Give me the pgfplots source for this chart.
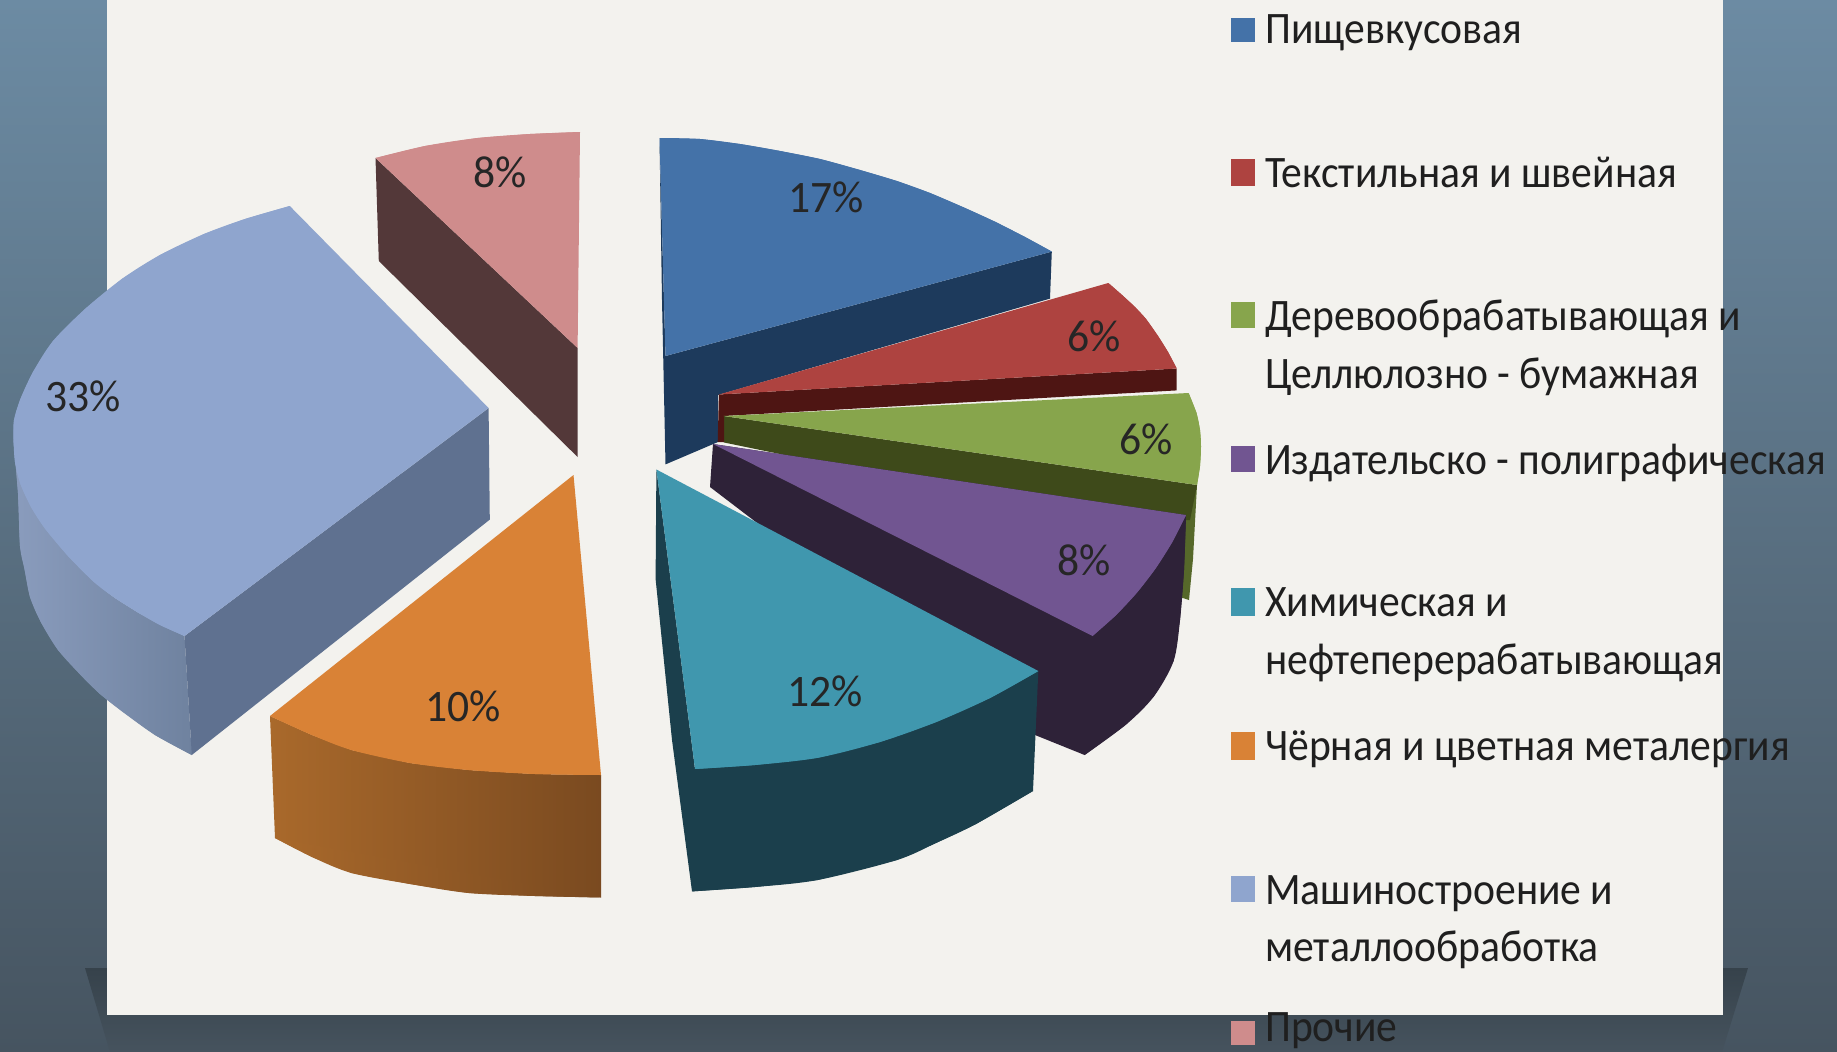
\documentclass[border=0pt]{standalone}
\usepackage{graphicx}
\usepackage{fontspec}
\setmainfont{Carlito}
\usepackage{pgfplots}
\pgfplotsset{compat=1.18}
\definecolor{panel}{HTML}{F3F2EE}
\definecolor{bluetop}{HTML}{4472A8}
\definecolor{blueside}{HTML}{1D3A5C}
\definecolor{redtop}{HTML}{AE4340}
\definecolor{redside}{HTML}{4E1513}
\definecolor{greentop}{HTML}{87A54C}
\definecolor{greenside}{HTML}{3E4A1A}
\definecolor{greenlite}{HTML}{56682A}
\definecolor{purpletop}{HTML}{715591}
\definecolor{purpleside}{HTML}{2E2238}
\definecolor{tealtop}{HTML}{4097AE}
\definecolor{tealside}{HTML}{1B3F4C}
\definecolor{orangetop}{HTML}{D98236}
\definecolor{orangeL}{HTML}{A9692B}
\definecolor{orangeR}{HTML}{7A4A20}
\definecolor{machtop}{HTML}{8FA5CE}
\definecolor{machL}{HTML}{8A9CBD}
\definecolor{machR}{HTML}{6F829F}
\definecolor{machflat}{HTML}{5F7190}
\definecolor{pinktop}{HTML}{CF8C8C}
\definecolor{pinkside}{HTML}{533839}
\newcommand{\lbl}[3]{\node[anchor=west,inner sep=0pt,text=black!88,font=\fontsize{45}{45}\selectfont] at (axis cs:#1,#2+5) {\scalebox{0.925}[1]{\strut #3}};}
\newcommand{\pct}[3]{\node[inner sep=0pt,text=black!85,font=\fontsize{45}{45}\selectfont] at (axis cs:#1,#2) {\scalebox{0.97}[1]{#3\%}};}
\begin{document}
\begin{tikzpicture}
\useasboundingbox (0,0) rectangle (1837pt,1052pt);
\begin{axis}[
  at={(0,0)}, anchor=south west,
  scale only axis, width=1837pt, height=1052pt,
  xmin=0, xmax=1837, ymin=0, ymax=1052, y dir=reverse,
  hide axis, clip=true, no markers, every axis plot/.append style={draw=none, line width=0pt}]
% background
\addplot[top color={rgb,255:red,108;green,139;blue,163}, middle color={rgb,255:red,88;green,116;blue,137}, bottom color={rgb,255:red,70;green,84;blue,96}] coordinates {(0,0)(1837,0)(1837,1052)(0,1052)};
% ribbon
\addplot[top color={rgb,255:red,54;green,66;blue,75}, bottom color={rgb,255:red,70;green,83;blue,94}] coordinates {(85,968)(1748,968)(1722,1052)(110,1052)};
% panel
\addplot[fill=panel] coordinates {(107,0)(1723,0)(1723,1015)(107,1015)};
% Pishchevkusovaya 17
\addplot[fill=blueside] coordinates {(659.5,138)(665.5,356)(1051.8,251.6)(1050,298.6)(718,395)(718,442)(665.5,464.4)(662,300)};
\addplot[fill=bluetop] coordinates {(659.5,138)(700,139)(740,144)(778,150.6)(820,159)(860,170)(896.8,181)(930,193)(965,208)(995.6,222)(1025,237)(1051.8,251.6)(665.5,356)};
\addplot[fill=bluetop, smooth] coordinates {(659.5,138)(700,139)(740,144)(778,150.6)(820,159)(860,170)(896.8,181)(930,193)(965,208)(995.6,222)(1025,237)(1051.8,251.6)};
% Green 6 side
\addplot[fill=greenlite] coordinates {(1180,500)(1197,485)(1193,559)(1189,600)(1180,597)};
\addplot[fill=greenside] coordinates {(723.6,416)(1197,485)(1190,520)(1100,520)(723.6,442.4)};
% Red 6
\addplot[fill=redside] coordinates {(718.9,394.5)(1176.7,368.5)(1176.7,390.4)(724,416)(724,442)(717.7,442)};
\addplot[fill=redtop] coordinates {(718.9,394.5)(1108.3,283)(1122,295)(1135,307)(1146,319)(1158,336)(1168,352)(1176.7,368.5)};
\addplot[fill=redtop, smooth] coordinates {(1108.3,283)(1122,295)(1135,307)(1146,319)(1158,336)(1168,352)(1176.7,368.5)};
% Green 6 top
\addplot[fill=greentop] coordinates {(723.6,416)(1188.6,393)(1196.5,413)(1200,430)(1201,446.5)(1200,466)(1197,485)};
\addplot[fill=greentop, smooth] coordinates {(1188.6,393)(1196.5,413)(1200,430)(1201,446.5)(1200,466)(1197,485)};
% Purple 8
\addplot[fill=purpleside] coordinates {(713,444)(1186,515)(1184,570)(1180,620)(1173.6,661)(1153.8,696.5)(1126,724.6)(1084.6,755)(1035,735)(710,487)};
\addplot[fill=purpleside, smooth] coordinates {(1186,515)(1184,570)(1180,620)(1173.6,661)(1153.8,696.5)(1126,724.6)(1084.6,755)};
\addplot[fill=purpletop] coordinates {(713,444)(1186,515)(1171.9,542.7)(1155.4,568.7)(1136.7,592.9)(1115.8,615.3)(1092.5,636)};
\addplot[fill=purpletop, smooth] coordinates {(1186,515)(1171.9,542.7)(1155.4,568.7)(1136.7,592.9)(1115.8,615.3)(1092.5,636)};
% Teal 12
\addplot[fill=tealside] coordinates {(656.4,469.5)(695,769)(1038.3,671)(1033,791)(976,824)(936,843)(897,860)(817.7,880)(755,887)(692,891.4)(672,740)(655.6,579)};
\addplot[fill=tealside, smooth] coordinates {(1033,791)(976,824)(936,843)(897,860)(817.7,880)(755,887)(692,891.4)};
\addplot[fill=tealtop] coordinates {(656.4,469.5)(1038.3,671)(990,698)(936.3,722)(880,742)(817.7,757.8)(755,765)(695,769)};
\addplot[fill=tealtop, smooth] coordinates {(1038.3,671)(990,698)(936.3,722)(880,742)(817.7,757.8)(755,765)(695,769)};
% Orange 10
\addplot[left color=orangeL, right color=orangeR] coordinates {(270,716)(312,735)(351.5,750)(410,763)(468.6,770)(535,774)(601,775)(601,897.5)(535,896)(468.6,893)(410,884)(351.5,873)(312,857)(275,838)};
\addplot[left color=orangeL, right color=orangeR, smooth] coordinates {(275,838)(312,857)(351.5,873)(410,884)(468.6,893)(535,896)(601,897.5)};
\addplot[fill=orangetop] coordinates {(573.5,475)(601,775)(535,774)(468.6,770)(410,763)(351.5,750)(312,735)(270,716)};
\addplot[fill=orangetop, smooth] coordinates {(601,775)(535,774)(468.6,770)(410,763)(351.5,750)(312,735)(270,716)};
% Machine 33
\addplot[left color=machL, right color=machR] coordinates {(13.5,439)(20.4,484)(45,528.6)(68,556)(93.9,582)(115,598)(138.8,613)(184.5,636)(191.8,755)(155,735)(122.4,711.6)(100,694)(81.6,676)(58,650)(40.8,622)(30,597)(24.5,569)(20,546)(18,493)};
\addplot[left color=machL, right color=machR, smooth] coordinates {(13.5,439)(18,493)(20,546)(24.5,569)(30,597)(40.8,622)(58,650)(81.6,676)(100,694)(122.4,711.6)(155,735)(191.8,755)};
\addplot[fill=machflat] coordinates {(184.5,636)(488.6,408)(489.8,519.6)(191.8,755)};
\addplot[fill=machtop] coordinates {(488.6,408)(289.8,206)(245,219)(204,234)(160,255)(122.4,278.6)(85,309)(53,341)(33,372)(20.4,399)(14,420)(13.5,439)(15,462)(20.4,484)(31,507)(45,528.6)(68,556)(93.9,582)(115,598)(138.8,613)(160,625)(184.5,636)};
\addplot[fill=machtop, smooth] coordinates {(289.8,206)(245,219)(204,234)(160,255)(122.4,278.6)(85,309)(53,341)(33,372)(20.4,399)(14,420)(13.5,439)(15,462)(20.4,484)(31,507)(45,528.6)(68,556)(93.9,582)(115,598)(138.8,613)(160,625)(184.5,636)};
% Pink 8
\addplot[fill=pinkside] coordinates {(375.5,158)(577.6,348)(577.6,457)(378.8,261)};
\addplot[fill=pinktop] coordinates {(375.5,158)(425,146)(477.6,138)(530,134)(580,132)(577.6,348)};
\addplot[fill=pinktop, smooth] coordinates {(375.5,158)(425,146)(477.6,138)(530,134)(580,132)};
% percentages
\pct{826}{197}{17}
\pct{1094}{336}{6}
\pct{1146}{439}{6}
\pct{1084}{560}{8}
\pct{825}{691}{12}
\pct{463}{706}{10}
\pct{83}{396}{33}
\pct{500}{172}{8}
% legend swatches
\addplot[fill=bluetop] coordinates {(1231,18)(1255,18)(1255,42)(1231,42)};
\addplot[fill=redtop] coordinates {(1231,159)(1255,159)(1255,186)(1231,186)};
\addplot[fill=greentop] coordinates {(1231,302)(1255,302)(1255,328)(1231,328)};
\addplot[fill=purpletop] coordinates {(1231,446)(1255,446)(1255,472)(1231,472)};
\addplot[fill=tealtop] coordinates {(1231,588)(1255,588)(1255,616)(1231,616)};
\addplot[fill=orangetop] coordinates {(1231,732)(1255,732)(1255,760)(1231,760)};
\addplot[fill=machtop] coordinates {(1231,876)(1255,876)(1255,902)(1231,902)};
\addplot[fill=pinktop] coordinates {(1231,1021)(1255,1021)(1255,1045)(1231,1045)};
% legend text
\lbl{1265}{29}{Пищевкусовая}
\lbl{1265}{173}{Текстильная и швейная}
\lbl{1265}{316}{Деревообрабатывающая и}
\lbl{1265}{374}{Целлюлозно - бумажная}
\lbl{1265}{460}{Издательско - полиграфическая}
\lbl{1265}{602}{Химическая и}
\lbl{1265}{660}{нефтеперерабатывающая}
\lbl{1265}{746}{Чёрная и цветная металергия}
\lbl{1265}{890}{Машиностроение и}
\lbl{1265}{947}{металлообработка}
\node[anchor=base west,inner sep=0pt,text=black!88,font=\fontsize{45}{45}\selectfont] at (axis cs:1265,1041) {\scalebox{0.925}[1]{Прочие}};
\end{axis}
\end{tikzpicture}
\end{document}
